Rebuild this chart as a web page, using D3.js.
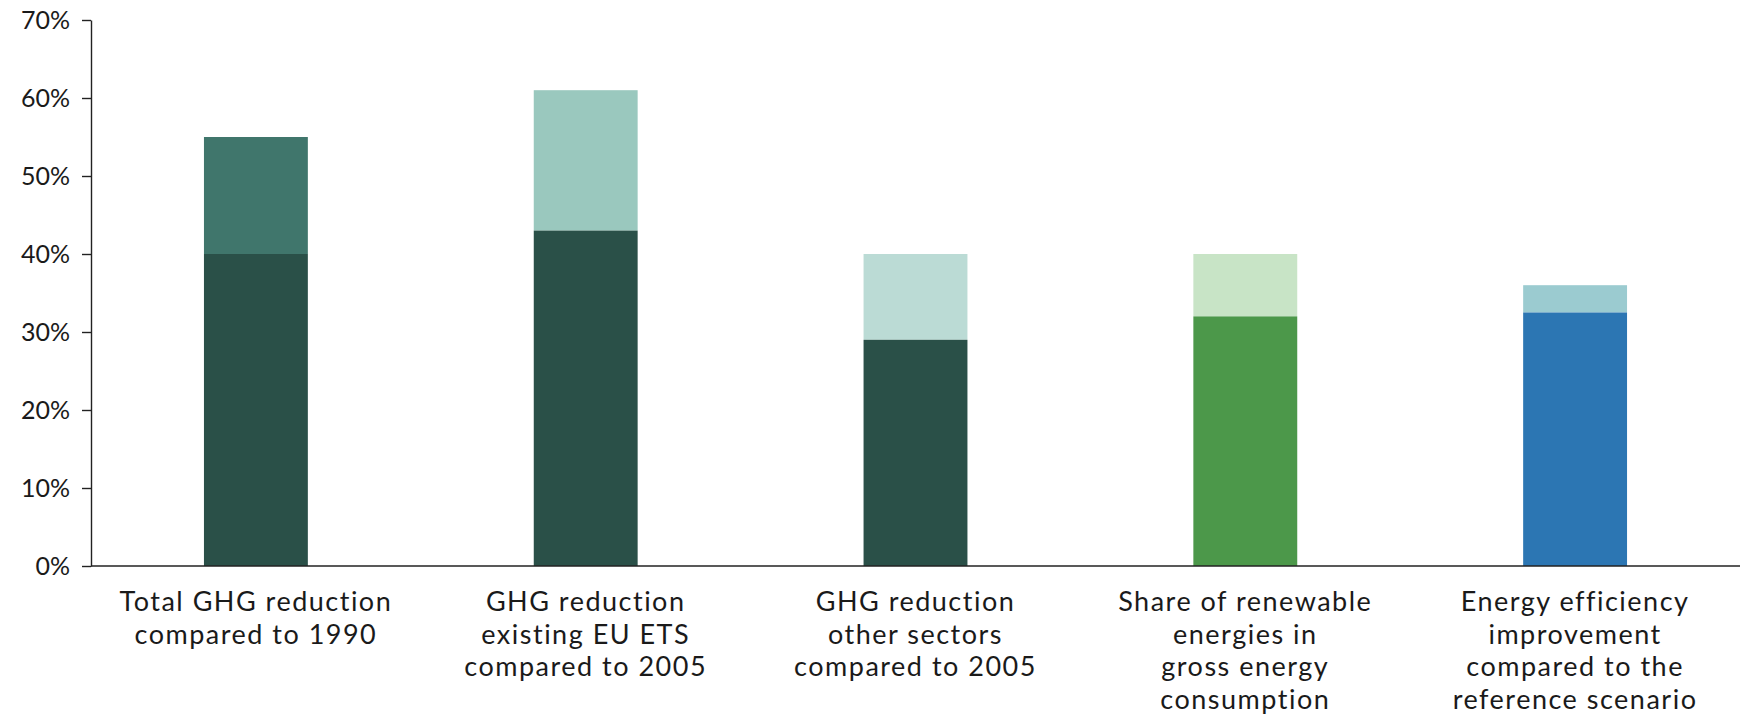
<!DOCTYPE html>
<html>
<head>
<meta charset="utf-8">
<script src="https://cdn.jsdelivr.net/npm/d3@7"></script>
<style>
  html, body { margin: 0; padding: 0; background: #fff; }
  svg { display: block; }
  .axis text { font-family: Lato, "Open Sans", sans-serif; fill: #1a1a1a; }
</style>
</head>
<body>
<svg id="chart" width="1740" height="719"></svg>
<script>
// EU 2030 climate and energy targets: earlier target (lower segment) and raised target (full bar height)
const categories = [
  ["Total GHG reduction", "compared to 1990"],
  ["GHG reduction", "existing EU ETS", "compared to 2005"],
  ["GHG reduction", "other sectors", "compared to 2005"],
  ["Share of renewable", "energies in", "gross energy", "consumption"],
  ["Energy efficiency", "improvement", "compared to the", "reference scenario"]
];
const baseTargets = [40, 43, 29, 32, 32.5];
const raisedTargets = [55, 61, 40, 40, 36];
const baseColors = ["#2a5048", "#2a5048", "#2a5048", "#4c984a", "#2c76b3"];
const topColors = ["#40766c", "#9ac8be", "#bbdbd5", "#c8e4c6", "#9bcbd0"];
const yTicks = [0, 10, 20, 30, 40, 50, 60, 70];

const svg = d3.select("#chart");
const margin = { left: 91, right: 0, top: 20, bottom: 153 };
const width = 1740, height = 719;

const x = d3.scaleBand()
  .domain(d3.range(categories.length))
  .range([margin.left, width - margin.right])
  .paddingInner(0.685)
  .paddingOuter(0.3425);

const y = d3.scaleLinear()
  .domain([0, 70])
  .range([height - margin.bottom, margin.top]);

// upper segment: raised target above the earlier one
svg.append("g").selectAll("rect")
  .data(d3.range(categories.length))
  .join("rect")
  .attr("x", i => x(i))
  .attr("width", x.bandwidth())
  .attr("y", i => y(raisedTargets[i]))
  .attr("height", i => y(baseTargets[i]) - y(raisedTargets[i]))
  .attr("fill", i => topColors[i]);

// lower segment: earlier target
svg.append("g").selectAll("rect")
  .data(d3.range(categories.length))
  .join("rect")
  .attr("x", i => x(i))
  .attr("width", x.bandwidth())
  .attr("y", i => y(baseTargets[i]))
  .attr("height", i => y(0) - y(baseTargets[i]))
  .attr("fill", i => baseColors[i]);

// y axis
const yAxis = svg.append("g")
  .attr("class", "axis")
  .attr("transform", `translate(${margin.left},0)`)
  .call(d3.axisLeft(y).tickValues(yTicks).tickFormat(d => d + "%").tickSize(9).tickPadding(12).tickSizeOuter(0));
yAxis.selectAll("text").attr("font-size", 25);
yAxis.selectAll("path, line").attr("stroke", "#222").attr("stroke-width", 1.4);

// x axis baseline
const xAxis = svg.append("g")
  .attr("class", "axis")
  .attr("transform", `translate(0,${y(0)})`)
  .call(d3.axisBottom(x).tickSize(0).tickSizeOuter(0).tickFormat(""));
xAxis.select("path").attr("stroke", "#222").attr("stroke-width", 1.4)
  .attr("d", `M${margin.left},0H${width}`);

// multi-line category labels, one text element per line
const lineHeight = 32.5;
svg.append("g").attr("class", "axis")
  .selectAll("text")
  .data(categories.flatMap((lines, i) => lines.map((line, k) => ({ line, i, k }))))
  .join("text")
  .attr("text-anchor", "middle")
  .attr("font-size", 27)
  .attr("letter-spacing", 1.5)
  .attr("x", d => x(d.i) + x.bandwidth() / 2)
  .attr("y", d => y(0) + 45 + d.k * lineHeight)
  .text(d => d.line);
</script>
</body>
</html>
